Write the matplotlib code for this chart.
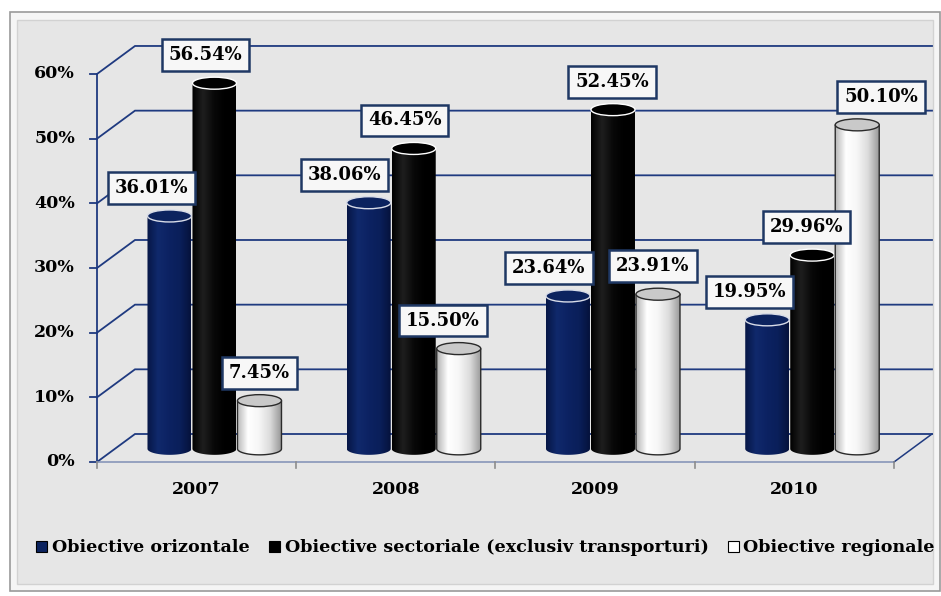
import numpy as np
import matplotlib.pyplot as plt
from matplotlib.colors import LinearSegmentedColormap
from matplotlib.patches import Ellipse, Rectangle, PathPatch
from matplotlib.path import Path

years = ["2007", "2008", "2009", "2010"]
series_names = ["Obiective orizontale",
                "Obiective sectoriale (exclusiv transporturi)",
                "Obiective regionale"]
orizontale = [36.01, 38.06, 23.64, 19.95]
sectoriale = [56.54, 46.45, 52.45, 29.96]
regionale = [7.45, 15.50, 23.91, 50.10]
y_ticks = [0, 10, 20, 30, 40, 50, 60]

# layout (pixels of the 941x596 canvas)
W_PX, H_PX = 941, 596
X0_PX, Y0_PX = 97, 462          # front-left corner of the floor
CAT_PX, PCT_PX = 199.25, 6.467  # one category / one percent in pixels
DEPTH_X = 38 / CAT_PX
DEPTH_Y = 28 / PCT_PX
BAR_DEPTH = 0.47
BAR_STEP = 45 / CAT_PX
BAR_W = 44 / CAT_PX
ELL_H = 12 / PCT_PX
LABEL_SHIFT = [[-18, -9, 0], [-24, -9, -16], [-19, -1, -5], [-18, -6, 24]]

NAVY = "#1f3a80"
FONT = dict(family="DejaVu Serif", weight="bold")

styles = [
    dict(cmap=["#061645", "#10296c", "#0c2262", "#0a1f5a", "#05123c"],
         top="#0c235f", top_edge="#d8dce8", edge=None),
    dict(cmap=["#000000", "#1e1e1e", "#080808", "#000000", "#000000"],
         top="#000000", top_edge="#ffffff", edge=None),
    dict(cmap=["#b4b4b4", "#ffffff", "#f6f6f6", "#dcdcdc", "#9a9a9a"],
         top="#c9c9c9", top_edge="#2a2a2a", edge="#2a2a2a"),
]

fig = plt.figure(figsize=(W_PX / 100, H_PX / 100), dpi=100)
fig.patches.append(Rectangle((10 / W_PX, 1 - 591 / H_PX), 930 / W_PX, 579 / H_PX,
                             transform=fig.transFigure, fc="#f5f5f5", ec="#9a9a9a",
                             lw=1.2, zorder=0))
fig.patches.append(Rectangle((17 / W_PX, 1 - 584 / H_PX), 916 / W_PX, 564 / H_PX,
                             transform=fig.transFigure, fc="#e6e6e6", ec="#d2d2d2",
                             lw=1.0, zorder=0))

ax = fig.add_axes([0, 0, 1, 1])
ax.set_zorder(2)
ax.patch.set_visible(False)
ax.axis("off")
xlim = (-X0_PX / CAT_PX, (W_PX - X0_PX) / CAT_PX)
ylim = ((Y0_PX - H_PX) / PCT_PX, Y0_PX / PCT_PX)

n = len(years)
# walls: gridlines on back wall + side wall diagonals
for t in y_ticks:
    ax.plot([0, DEPTH_X, n + DEPTH_X], [t, t + DEPTH_Y, t + DEPTH_Y],
            color=NAVY, lw=1.3, zorder=1, solid_joinstyle="miter")
    ax.plot([-0.035, 0], [t, t], color=NAVY, lw=1.3, zorder=1)
ax.plot([0, 0], [0, y_ticks[-1]], color=NAVY, lw=1.3, zorder=1)
ax.plot([0, n], [0, 0], color="#7f8fb5", lw=1.1, zorder=1)
ax.plot([n, n + DEPTH_X], [0, DEPTH_Y], color=NAVY, lw=1.1, zorder=1)
for i in range(n + 1):
    ax.plot([i, i], [0, -0.9], color="#8c8c8c", lw=1.2, zorder=1)

for t in y_ticks:
    ax.annotate(f"{t}%", (0, t), xytext=(-22, 0), textcoords="offset pixels",
                ha="right", va="center", fontsize=12.5, **FONT)
for i, yr in enumerate(years):
    ax.annotate(yr, (i + 0.5, 0), xytext=(0, -28), textcoords="offset pixels",
                ha="center", va="center", fontsize=12.5, **FONT)

grad = np.linspace(0, 1, 256)[None, :]
series = [orizontale, sectoriale, regionale]
for i in range(n):
    for s, vals in enumerate(series):
        st = styles[s]
        v = vals[i]
        xc = i + 0.5 + (s - 1) * BAR_STEP + BAR_DEPTH * DEPTH_X
        base = BAR_DEPTH * DEPTH_Y
        top = base + v
        xl, xr = xc - BAR_W / 2, xc + BAR_W / 2
        tt = np.linspace(np.pi, 2 * np.pi, 60)
        verts = ([(xl, top), (xl, base)]
                 + list(zip(xc + BAR_W / 2 * np.cos(tt), base + ELL_H / 2 * np.sin(tt)))
                 + [(xr, top), (xl, top)])
        z = 3 + s * 0.01 + i
        body = PathPatch(Path(verts, closed=True), fc="none", ec="none", zorder=z)
        ax.add_patch(body)
        cm = LinearSegmentedColormap.from_list(f"c{s}", st["cmap"])
        im = ax.imshow(grad, cmap=cm, aspect="auto",
                       extent=[xl, xr, base - ELL_H / 2, top],
                       zorder=z, interpolation="bilinear")
        im.set_clip_path(body)
        if st["edge"]:
            ax.add_patch(PathPatch(Path(verts, closed=True), fc="none",
                                   ec=st["edge"], lw=1.0, zorder=z + 0.001))
        ax.add_patch(Ellipse((xc, top), BAR_W, ELL_H, fc=st["top"],
                             ec=st["top_edge"], lw=1.0, zorder=z + 0.002))
        ax.annotate(f"{v:.2f}%", (xc, top), xytext=(LABEL_SHIFT[i][s], 28),
                    textcoords="offset pixels", ha="center", va="center",
                    fontsize=13, zorder=20, **FONT,
                    bbox=dict(boxstyle="square,pad=0.38", fc="#f7f7f7",
                              ec="#1f3864", lw=1.8))

ax.set_xlim(*xlim)
ax.set_ylim(*ylim)

colors = ["#0c235f", "#000000", "#ffffff"]
handles = [Rectangle((0, 0), 1, 1, fc=c, ec="black", lw=0.8) for c in colors]
fig.legend(handles, series_names, loc="center", bbox_to_anchor=(0.516, 1 - 548 / H_PX),
           ncol=3, frameon=False, handlelength=0.65, handleheight=0.65,
           handletextpad=0.25, columnspacing=1.1,
           prop=dict(family="DejaVu Serif", weight="bold", size=12.6))

fig.savefig("out.png", dpi=100)
